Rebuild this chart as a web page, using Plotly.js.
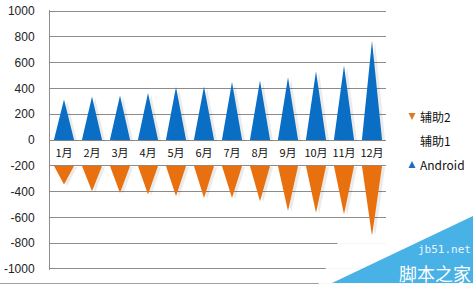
<!DOCTYPE html>
<html>
<head>
<meta charset="utf-8">
<script src="https://cdn.plot.ly/plotly-3.0.1.min.js"></script>
<style>html,body{margin:0;padding:0;background:#fff;}#chart{width:474px;height:285px;}</style>
</head>
<body>
<div id="chart"></div>
<script>
var months = ['1月','2月','3月','4月','5月','6月','7月','8月','9月','10月','11月','12月'];
var android = [315, 338, 346, 364, 410, 415, 449, 462, 487, 533, 577, 769];
var aux1 = [-200, -200, -200, -200, -200, -200, -200, -200, -200, -200, -200, -200];
var aux2 = [-146, -197, -210, -223, -236, -249, -249, -274, -351, -364, -377, -545];
var yTicks = [-1000, -800, -600, -400, -200, 0, 200, 400, 600, 800, 1000];

var W = 474, H = 285, ML = 50, MR = 88, MT = 10, MB = 15;
var PW = W - ML - MR, PH = H - MT - MB;
function px(x){ return (x - ML) / PW; }
function py(y){ return (H - MB - y) / PH; }

var half = 0.36;
var blue = '#0A6FC4', orange = '#E8700E';

function tri(base, val, dx, dy){
  var xs = [], ys = [];
  for (var i = 0; i < months.length; i++){
    var b = base[i], t = base[i] + val[i];
    xs.push(i - half + dx, i + dx, i + half + dx, i - half + dx, null);
    ys.push(b + dy, t + dy, b + dy, b + dy, null);
  }
  return {x: xs, y: ys};
}
var zeros = months.map(function(){ return 0; });
var aT = tri(zeros, android, 0, 0);
var aS = tri(zeros, android, 0.11, -10);
var oT = tri(aux1, aux2, 0, 0);
var oS = tri(aux1, aux2, 0.11, -10);

var traces = [
  {x: aS.x, y: aS.y, type: 'scatter', mode: 'lines', fill: 'toself', fillcolor: 'rgba(0,0,0,0.08)', line: {width: 0}, hoverinfo: 'skip', showlegend: false},
  {x: oS.x, y: oS.y, type: 'scatter', mode: 'lines', fill: 'toself', fillcolor: 'rgba(0,0,0,0.08)', line: {width: 0}, hoverinfo: 'skip', showlegend: false},
  {x: aT.x, y: aT.y, name: 'Android', type: 'scatter', mode: 'lines', fill: 'toself', fillcolor: blue, line: {width: 0, color: blue}, showlegend: false},
  {x: oT.x, y: oT.y, name: '辅助2', type: 'scatter', mode: 'lines', fill: 'toself', fillcolor: orange, line: {width: 0, color: orange}, showlegend: false},
  {x: months.map(function(m, i){ return i; }), y: aux1.map(function(v){ return v / 2 - 10; }), name: '辅助1', type: 'scatter', mode: 'text', text: months, textposition: 'middle center', textfont: {family: '"Noto Sans CJK SC", sans-serif', size: 11, color: '#111'}, hoverinfo: 'skip', showlegend: false}
];

var legendItems = [
  {name: '辅助2', y: 116, sym: 'down', color: '#E07A1E'},
  {name: '辅助1', y: 140, sym: null},
  {name: 'Android', y: 164, sym: 'up', color: '#1C6FC0'}
];
var shapes = [], annotations = [];
legendItems.forEach(function(it){
  annotations.push({xref: 'paper', yref: 'paper', x: px(418), y: py(it.y), xanchor: 'left', yanchor: 'middle', showarrow: false, text: it.name, font: {family: '"Noto Sans CJK SC", sans-serif', size: 12, color: '#111'}});
  if (it.sym === 'down') {
    shapes.push({type: 'path', xref: 'paper', yref: 'paper', path: 'M ' + px(408.5) + ',' + py(113) + ' L ' + px(415.5) + ',' + py(113) + ' L ' + px(412) + ',' + py(120) + ' Z', fillcolor: it.color, line: {width: 0}});
  } else if (it.sym === 'up') {
    shapes.push({type: 'path', xref: 'paper', yref: 'paper', path: 'M ' + px(408.5) + ',' + py(168) + ' L ' + px(415.5) + ',' + py(168) + ' L ' + px(412) + ',' + py(161) + ' Z', fillcolor: it.color, line: {width: 0}});
  }
});
// outer bottom border
shapes.push({type: 'line', xref: 'paper', yref: 'paper', x0: px(0), x1: px(474), y0: py(283.5), y1: py(283.5), line: {color: '#A0A0A0', width: 1}});
// watermark haze
shapes.push({type: 'path', xref: 'paper', yref: 'paper', layer: 'above', path: 'M ' + px(318) + ',' + py(285) + ' L ' + px(338) + ',' + py(242) + ' L ' + px(400) + ',' + py(228) + ' L ' + px(474) + ',' + py(216) + ' L ' + px(474) + ',' + py(285) + ' Z', fillcolor: 'rgba(255,255,255,0.92)', line: {width: 0}});
shapes.push({type: 'path', xref: 'paper', yref: 'paper', layer: 'above', path: 'M ' + px(332) + ',' + py(283) + ' L ' + px(473) + ',' + py(216) + ' L ' + px(473) + ',' + py(283) + ' Z', fillcolor: '#48B1E6', line: {width: 0}});
annotations.push({xref: 'paper', yref: 'paper', x: px(472), y: py(257), xanchor: 'right', yanchor: 'bottom', showarrow: false, borderpad: 0, text: 'jb51.net', font: {family: 'DejaVu Sans Mono, monospace', size: 11, color: '#EAF6FD'}});
annotations.push({xref: 'paper', yref: 'paper', x: px(472), y: py(259), xanchor: 'right', yanchor: 'top', showarrow: false, borderpad: 0, text: '脚本之家', font: {family: '"Noto Sans CJK SC", sans-serif', size: 18, color: '#FFFFFF'}});

var layout = {
  width: W, height: H,
  margin: {l: ML, r: MR, t: MT, b: MB, pad: 0},
  paper_bgcolor: '#fff', plot_bgcolor: '#fff',
  showlegend: false,
  xaxis: {range: [-0.5, 11.5], showgrid: false, zeroline: false, showticklabels: false, showline: false, ticks: '', fixedrange: true},
  yaxis: {range: [-1008, 1008], tickvals: yTicks, ticktext: yTicks.map(String), showgrid: true, gridcolor: '#8C8C8C', gridwidth: 1, zeroline: true, zerolinecolor: '#8C8C8C', zerolinewidth: 1, showline: true, linecolor: '#8C8C8C', linewidth: 1, ticks: '', ticklabelstandoff: 12, tickfont: {family: 'Liberation Sans, Arial, sans-serif', size: 12, color: '#222'}},
  shapes: shapes,
  annotations: annotations
};
Plotly.newPlot('chart', traces, layout, {displayModeBar: false, staticPlot: true});
</script>
</body>
</html>
